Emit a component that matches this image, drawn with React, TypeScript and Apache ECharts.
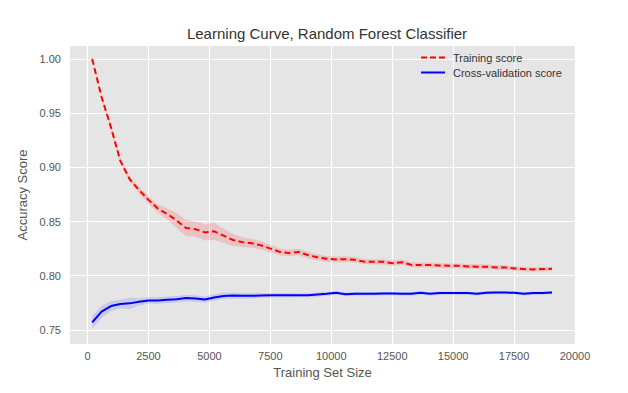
import React, { useEffect, useRef } from "react";
import * as echarts from "echarts";

const trainSizes = [
  190, 575, 960, 1345, 1730, 2115, 2500, 2885, 3270, 3655,
  4040, 4425, 4810, 5195, 5580, 5965, 6350, 6735, 7120, 7505,
  7890, 8275, 8660, 9045, 9430, 9815, 10200, 10585, 10970, 11355,
  11740, 12125, 12510, 12895, 13280, 13665, 14050, 14435, 14820, 15205,
  15590, 15975, 16360, 16745, 17130, 17515, 17900, 18285, 18670, 19057,
];

const trainMean = [
  1.0, 0.965, 0.937, 0.906, 0.889, 0.879, 0.87, 0.862, 0.857, 0.851,
  0.844, 0.843, 0.84, 0.841, 0.837, 0.833, 0.831, 0.83, 0.828, 0.825,
  0.822, 0.821, 0.822, 0.819, 0.817, 0.8156, 0.815, 0.8153, 0.8147, 0.813,
  0.8128, 0.8128, 0.8116, 0.8125, 0.81, 0.8098, 0.8098, 0.8095, 0.8092, 0.8092,
  0.8086, 0.8083, 0.8083, 0.8077, 0.8077, 0.8067, 0.8061, 0.8058, 0.8061, 0.8064,
];

const trainStd = [
  0.001, 0.002, 0.0025, 0.0025, 0.0025, 0.003, 0.0035, 0.004, 0.005, 0.007,
  0.0075, 0.007, 0.0075, 0.008, 0.0065, 0.0055, 0.0045, 0.004, 0.0038, 0.0035,
  0.0032, 0.003, 0.003, 0.003, 0.0028, 0.0027, 0.0027, 0.0026, 0.0026, 0.0025,
  0.0025, 0.0025, 0.0024, 0.0024, 0.0024, 0.0023, 0.0023, 0.0023, 0.0022, 0.0022,
  0.0022, 0.0022, 0.0021, 0.0021, 0.0021, 0.0021, 0.002, 0.002, 0.002, 0.002,
];

const testMean = [
  0.757, 0.7668, 0.772, 0.7739, 0.7745, 0.776, 0.7772, 0.7772, 0.7778, 0.7784,
  0.7794, 0.779, 0.778, 0.78, 0.7812, 0.7818, 0.7815, 0.7815, 0.7818, 0.782,
  0.782, 0.782, 0.782, 0.782, 0.7827, 0.7833, 0.7842, 0.783, 0.7833, 0.7833,
  0.7833, 0.7836, 0.7836, 0.7833, 0.7833, 0.7842, 0.7833, 0.784, 0.784, 0.784,
  0.784, 0.7833, 0.7842, 0.7845, 0.7845, 0.7842, 0.7833, 0.784, 0.784, 0.7845,
];

const testStd = [
  0.006, 0.0055, 0.0045, 0.004, 0.0055, 0.0035, 0.003, 0.003, 0.003, 0.003,
  0.003, 0.003, 0.0028, 0.003, 0.003, 0.0028, 0.0025, 0.0025, 0.0022, 0.002,
  0.002, 0.002, 0.0018, 0.0018, 0.0018, 0.0017, 0.0017, 0.0016, 0.0016, 0.0016,
  0.0016, 0.0015, 0.0015, 0.0015, 0.0015, 0.0015, 0.0015, 0.0015, 0.0015, 0.0015,
  0.0015, 0.0015, 0.0015, 0.0015, 0.0015, 0.0015, 0.0015, 0.0015, 0.0015, 0.0015,
];

const xTicks = [0, 2500, 5000, 7500, 10000, 12500, 15000, 17500, 20000];
const yTicks = [0.75, 0.8, 0.85, 0.9, 0.95, 1.0];

const X_MIN = -720;
const X_MAX = 20000;
const Y_MIN = 0.737;
const Y_MAX = 1.012;

const DASHED_ICON = "path://M0,0H6V2H0Z M9,0H15V2H9Z M18,0H24V2H18Z";
const SOLID_ICON = "path://M0,0H24V2H0Z";

function bandSeries(name: string, mean: number[], std: number[], fill: string) {
  return {
    type: "custom",
    name,
    silent: true,
    z: 1,
    data: trainSizes.map((x, i) => [x, mean[i]]),
    encode: { x: 0, y: 1 },
    renderItem: (params: any, api: any) => {
      if (params.dataIndexInside !== 0) return null;
      const pts: number[][] = [];
      for (let i = 0; i < trainSizes.length; i++) {
        pts.push(api.coord([trainSizes[i], mean[i] + std[i]]));
      }
      for (let i = trainSizes.length - 1; i >= 0; i--) {
        pts.push(api.coord([trainSizes[i], mean[i] - std[i]]));
      }
      return {
        type: "polygon",
        shape: { points: pts },
        style: { fill },
      };
    },
  };
}

export default function App() {
  const ref = useRef<HTMLDivElement>(null);

  useEffect(() => {
    if (!ref.current) return;
    const chart = echarts.init(ref.current, undefined, { renderer: "svg" });
    const textColor = "#555555";
    const fontFamily = "'Liberation Sans', Arial, sans-serif";
    chart.setOption({
      animation: false,
      textStyle: { fontFamily },
      title: {
        text: "Learning Curve, Random Forest Classifier",
        left: 322,
        top: 21,
        textAlign: "center",
        textStyle: { fontSize: 15, fontWeight: "normal", color: "#333333", fontFamily },
      },
      legend: {
        orient: "vertical",
        left: 416,
        top: 47,
        itemWidth: 24,
        itemHeight: 2,
        itemGap: 4,
        data: [
          { name: "Training score", icon: DASHED_ICON },
          { name: "Cross-validation score", icon: SOLID_ICON },
        ],
        textStyle: { fontSize: 11, color: "#333333", fontFamily, padding: [0, 0, 0, 3] },
      },
      grid: {
        left: 70,
        right: 53,
        top: 46,
        bottom: 49,
        show: true,
        backgroundColor: "#e5e5e5",
        borderWidth: 0,
        containLabel: false,
      },
      xAxis: {
        type: "value",
        min: X_MIN,
        max: X_MAX,
        name: "Training Set Size",
        nameLocation: "middle",
        nameGap: 20,
        nameTextStyle: { fontSize: 13, color: textColor, fontFamily },
        axisLine: { show: false },
        axisTick: { show: false, customValues: xTicks },
        axisLabel: {
          customValues: xTicks,
          color: textColor,
          fontSize: 11,
          margin: 6,
          fontFamily,
          formatter: (v: number) => String(v),
        },
        splitLine: { show: true, lineStyle: { color: "#ffffff", width: 1.2 } },
      },
      yAxis: {
        type: "value",
        min: Y_MIN,
        max: Y_MAX,
        name: "Accuracy Score",
        nameLocation: "middle",
        nameGap: 34,
        nameTextStyle: { fontSize: 13, color: textColor, fontFamily },
        axisLine: { show: false },
        axisTick: { show: false, customValues: yTicks },
        axisLabel: {
          customValues: yTicks,
          color: textColor,
          fontSize: 11,
          margin: 9,
          fontFamily,
          formatter: (v: number) => v.toFixed(2),
        },
        splitLine: { show: true, lineStyle: { color: "#ffffff", width: 1.2 } },
      },
      series: [
        bandSeries("train-band", trainMean, trainStd, "rgba(255,0,0,0.15)"),
        bandSeries("test-band", testMean, testStd, "rgba(0,0,255,0.12)"),
        {
          type: "line",
          name: "Training score",
          z: 3,
          showSymbol: false,
          symbol: "none",
          data: trainSizes.map((x, i) => [x, trainMean[i]]),
          lineStyle: { color: "#ff0000", width: 2, type: [6, 3.5] },
          itemStyle: { color: "#ff0000" },
        },
        {
          type: "line",
          name: "Cross-validation score",
          z: 3,
          showSymbol: false,
          symbol: "none",
          data: trainSizes.map((x, i) => [x, testMean[i]]),
          lineStyle: { color: "#0000ff", width: 2 },
          itemStyle: { color: "#0000ff" },
        },
      ],
    });
    return () => chart.dispose();
  }, []);

  return (
    <div
      ref={ref}
      style={{ position: "fixed", left: 0, top: 0, width: 628, height: 393, background: "#ffffff" }}
    />
  );
}
